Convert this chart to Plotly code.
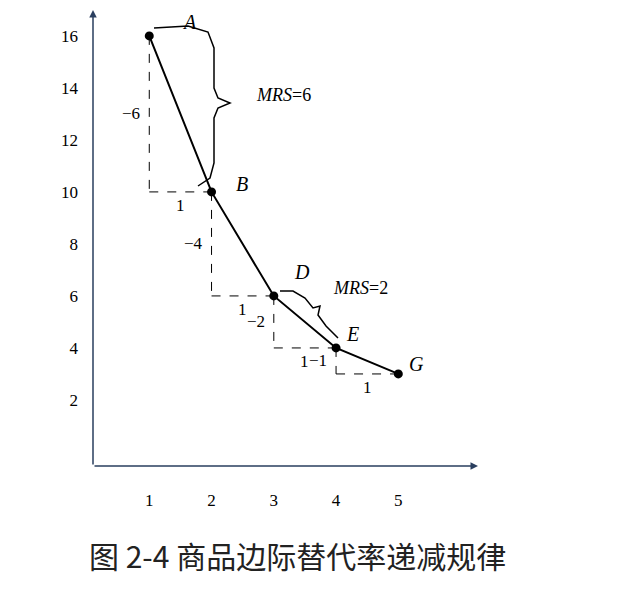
import plotly.graph_objects as go

food = [1, 2, 3, 4, 5]
clothes = [16, 10, 6, 4, 3]
point_names = ["A", "B", "D", "E", "G"]
d_clothes = ["−6", "−4", "−2", "−1"]
d_food = ["1", "1", "1", "1"]
xticks = [1, 2, 3, 4, 5]
yticks = [2, 4, 6, 8, 10, 12, 14, 16]

# pixel -> data helpers (plot area l=85, r=470, t=5, b=458)
X0, X1, Y0, Y1 = 0.096, 6.28, -0.54, 16.88
def px(x):
    return X0 + (x - 85) / (470 - 85) * (X1 - X0)
def py(y):
    return Y1 - (y - 5) / (458 - 5) * (Y1 - Y0)

serif = "Liberation Serif"
fig = go.Figure()
fig.add_trace(go.Scatter(x=food, y=clothes, mode="lines+markers",
                         line=dict(color="black", width=2),
                         marker=dict(color="black", size=9), showlegend=False))

shapes = []
anns = []
for i in range(len(food) - 1):
    x0, y0, x1, y1 = food[i], clothes[i], food[i + 1], clothes[i + 1]
    shapes.append(dict(type="line", x0=x0, y0=y0, x1=x0, y1=y1, line=dict(color="black", width=1, dash="dash")))
    shapes.append(dict(type="line", x0=x0, y0=y1, x1=x1, y1=y1, line=dict(color="black", width=1, dash="dash")))
    anns.append(dict(x=x0, y=(y0 + y1) / 2, text=d_clothes[i], xshift=-18, showarrow=False))
    anns.append(dict(x=(x0 + x1) / 2, y=y1, text=d_food[i], yshift=-14, showarrow=False))

offs = {"A": (40, 14), "B": (30, 8), "D": (28, 24), "E": (16, 14), "G": (18, 10)}
for n, x, y in zip(point_names, food, clothes):
    dx, dy = offs[n]
    anns.append(dict(x=x, y=y, text="<i>%s</i>" % n, xshift=dx, yshift=dy, showarrow=False,
                     font=dict(size=20)))

def path(pts):
    return "M " + " L ".join("%f,%f" % (px(a), py(b)) for a, b in pts)

brace1 = [(146, 20), (180, 18), (200, 24), (206, 40), (206, 80), (210, 90), (222, 95),
          (210, 100), (206, 110), (206, 155), (202, 170), (190, 178)]
brace2 = [(272, 283), (285, 283), (297, 290), (305, 300), (312, 298), (310, 307), (318, 318), (330, 330)]
for b in (brace1, brace2):
    shapes.append(dict(type="path", path=path(b), line=dict(color="black", width=1.5)))

# axes with arrows
anns.append(dict(x=px(85), y=py(2), ax=px(85), ay=py(458), xref="x", yref="y", axref="x", ayref="y",
                 showarrow=True, arrowhead=2, arrowwidth=1.5, text=""))
anns.append(dict(x=px(470), y=py(458), ax=px(85), ay=py(458), xref="x", yref="y", axref="x", ayref="y",
                 showarrow=True, arrowhead=2, arrowwidth=1.5, text=""))

anns += [
    dict(x=px(275), y=py(87), text="<i>MRS</i>=6", showarrow=False, font=dict(size=18)),
    dict(x=px(352), y=py(280), text="<i>MRS</i>=2", showarrow=False, font=dict(size=18)),
    dict(x=px(68), y=py(15), text="衣", showarrow=False, font=dict(size=16, family="Noto Sans CJK SC")),
    dict(x=px(68), y=py(42), text="服", showarrow=False, font=dict(size=16, family="Noto Sans CJK SC")),
    dict(x=px(495), y=py(490), text="食品", showarrow=False, font=dict(size=16, family="Noto Sans CJK SC")),
    dict(x=px(70), y=py(463), text="<i>O</i>", showarrow=False, font=dict(size=18)),
    dict(x=0.53, y=-0.25, xref="paper", yref="paper", text="图 2-4 商品边际替代率递减规律", showarrow=False,
         font=dict(size=30, family="Noto Sans CJK SC", color="#222")),
]

fig.update_layout(
    width=640, height=591, margin=dict(l=85, r=170, t=5, b=133),
    plot_bgcolor="white", paper_bgcolor="white",
    font=dict(family=serif, size=17, color="black"),
    shapes=shapes, annotations=anns,
    xaxis=dict(range=[X0, X1], showgrid=False, zeroline=False, showline=False,
               tickvals=xticks, ticks="", ticklabelstandoff=22),
    yaxis=dict(range=[Y0, Y1], showgrid=False, zeroline=False, showline=False,
               tickvals=yticks, ticks="", ticklabelstandoff=14),
)
fig.write_html("out.html")
